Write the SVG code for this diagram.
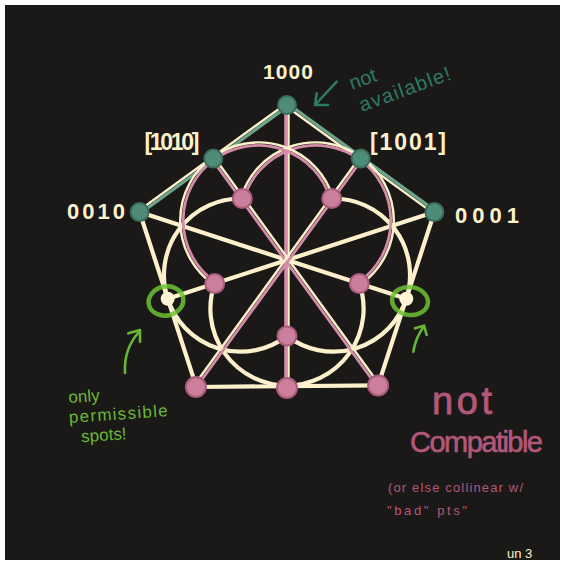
<svg xmlns="http://www.w3.org/2000/svg" width="565" height="565" viewBox="0 0 565 565">
<style>
.cr{fill:none;stroke:#fdf1cc;stroke-width:4.2;stroke-linecap:round}
.crt{fill:none;stroke:#fdf1cc;stroke-width:2.4;stroke-linecap:round}
.pk{fill:none;stroke:#d48ba7;stroke-width:2.8;stroke-linecap:round}
.gr{fill:none;stroke:#6da58b;stroke-width:3.2;stroke-linecap:round}
.gn{fill:#4f8c78;stroke:#3a6c5c;stroke-width:2}
.pn{fill:#cc7f9d;stroke:#a85c7a;stroke-width:2}
.cn{fill:#fff4d4}
.ring{fill:none;stroke:#6cc232;stroke-opacity:0.85;stroke-width:4.5}
.lbl{font-family:"Liberation Sans",Arial,sans-serif;fill:#fdf1cc;font-weight:bold}
.gt{font-family:"Liberation Sans",Arial,sans-serif;fill:#68b734}
.tt{font-family:"Liberation Sans",Arial,sans-serif;fill:#2d7a66}
.mt{font-family:"Liberation Sans",Arial,sans-serif;fill:#b3577b}
.ga{fill:none;stroke:#68b734;stroke-width:2.6;stroke-linecap:round;stroke-linejoin:round}
</style>
<rect x="0" y="0" width="565" height="565" fill="#ffffff"/>
<rect x="5" y="5" width="555" height="555" fill="#1b1917"/>

<g id="connectors">
  <line class="cr" x1="139.6" y1="212.1" x2="195.9" y2="385.4"/>
  <line class="cr" x1="195.9" y1="387" x2="378.1" y2="385.4"/>
  <line class="cr" x1="378.1" y1="385.4" x2="434.4" y2="212.1"/>
  <line class="cr" x1="139.6" y1="212.1" x2="406.3" y2="298.8"/>
  <line class="cr" x1="434.4" y1="212.1" x2="167.7" y2="298.8"/>
  <path class="cr" d="M331.7 198.5 A76.6 76.6 0 1 1 287 336"/>
  <path class="cr" d="M287 336 A76.6 76.6 0 1 1 242.3 198.5"/>
  <path class="cr" d="M359.3 283.5 A76.6 76.6 0 1 1 214.7 283.5"/>
  <line class="crt" x1="287" y1="105" x2="139.6" y2="212.1" transform="translate(-0.9 -1.3)"/>
  <line class="gr" x1="287" y1="105" x2="139.6" y2="212.1" transform="translate(0.9 1.2)"/>
  <line class="crt" x1="287" y1="105" x2="434.4" y2="212.1" transform="translate(-0.9 1.3)"/>
  <line class="gr" x1="287" y1="105" x2="434.4" y2="212.1" transform="translate(0.9 -1.2)"/>
  <line class="crt" x1="287" y1="105" x2="287" y2="385.4" transform="translate(1.5 0)"/>
  <line class="pk" x1="287" y1="105" x2="287" y2="385.4" transform="translate(-1.4 0)"/>
  <line class="crt" x1="213.3" y1="158.6" x2="378.1" y2="385.4" transform="translate(1.2 -0.9)"/>
  <line class="pk" x1="213.3" y1="158.6" x2="378.1" y2="385.4" transform="translate(-1.2 0.9)"/>
  <line class="crt" x1="360.7" y1="158.6" x2="195.9" y2="385.4" transform="translate(-1.2 -0.9)"/>
  <line class="pk" x1="360.7" y1="158.6" x2="195.9" y2="385.4" transform="translate(1.2 0.9)"/>
  <path class="crt" d="M242.3 198.5 A76.6 76.6 0 1 1 359.3 283.5" transform="translate(315.7 220.5) scale(1.02) translate(-315.7 -220.5)"/>
  <path class="pk" d="M242.3 198.5 A76.6 76.6 0 1 1 359.3 283.5" transform="translate(315.7 220.5) scale(0.981) translate(-315.7 -220.5)"/>
  <path class="crt" d="M214.7 283.5 A76.6 76.6 0 1 1 331.7 198.5" transform="translate(258.3 220.5) scale(1.02) translate(-258.3 -220.5)"/>
  <path class="pk" d="M214.7 283.5 A76.6 76.6 0 1 1 331.7 198.5" transform="translate(258.3 220.5) scale(0.981) translate(-258.3 -220.5)"/>
</g>

<g id="node-1000"><circle class="gn" cx="287" cy="105" r="9"/><text class="lbl" x="288" y="79" font-size="21" text-anchor="middle" textLength="50">1000</text></g>
<g id="node-1010"><circle class="gn" cx="213.3" cy="158.6" r="9"/><text class="lbl" x="172" y="150" font-size="23" text-anchor="middle" textLength="55">[1010]</text></g>
<g id="node-1001"><circle class="gn" cx="360.7" cy="158.6" r="9"/><text class="lbl" x="408" y="150" font-size="23" text-anchor="middle" textLength="76">[1001]</text></g>
<g id="node-0010"><circle class="gn" cx="139.6" cy="212.1" r="9"/><text class="lbl" x="96" y="219" font-size="22" text-anchor="middle" textLength="58">0010</text></g>
<g id="node-0001"><circle class="gn" cx="434.4" cy="212.1" r="9"/><text class="lbl" x="487" y="223" font-size="22" text-anchor="middle" textLength="64">0001</text></g>

<g id="node-ll"><circle class="pn" cx="195.9" cy="387" r="10"/></g>
<g id="node-bm"><circle class="pn" cx="287" cy="388" r="10"/></g>
<g id="node-lr"><circle class="pn" cx="378.1" cy="385.4" r="10"/></g>
<g id="node-i1"><circle class="pn" cx="242.3" cy="198.5" r="9.5"/></g>
<g id="node-i2"><circle class="pn" cx="331.7" cy="198.5" r="9.5"/></g>
<g id="node-i3"><circle class="pn" cx="359.3" cy="283.5" r="9.5"/></g>
<g id="node-i4"><circle class="pn" cx="287" cy="336" r="9.5"/></g>
<g id="node-i5"><circle class="pn" cx="214.7" cy="283.5" r="9.5"/></g>

<g id="node-left"><circle class="cn" cx="167.7" cy="298.8" r="7"/><ellipse class="ring" cx="166" cy="301" rx="17.5" ry="14.5" transform="rotate(-12 166 301)"/></g>
<g id="node-right"><circle class="cn" cx="406.3" cy="298.8" r="7"/><ellipse class="ring" cx="410" cy="301" rx="18" ry="14" transform="rotate(8 410 301)"/></g>

<g id="note-available">
  <path d="M336.7 81.7 L315 105 M316.7 93.3 L315 105 L328 105" fill="none" stroke="#2d7a66" stroke-width="2.5" stroke-linecap="round" stroke-linejoin="round"/>
  <text class="tt" x="352" y="90" font-size="20" transform="rotate(-20 352 90)">not</text>
  <text class="tt" x="362" y="112" font-size="20" transform="rotate(-20 362 112)" textLength="96">available!</text>
</g>

<g id="note-permissible">
  <path class="ga" d="M125 373 C124 356 129 343 139 332"/>
  <path class="ga" d="M128.3 333.3 L140 330 L140 341.7"/>
  <path class="ga" d="M413.3 351.7 C415 341 419 333 424 326"/>
  <path class="ga" d="M415 328.3 L424 325.7 L426.7 335"/>
  <g transform="rotate(-4 70 420)">
    <text class="gt" x="70" y="403" font-size="17">only</text>
    <text class="gt" x="69" y="423" font-size="17" textLength="99">permissible</text>
    <text class="gt" x="80" y="443" font-size="17">spots!</text>
  </g>
</g>

<g id="note-compatible">
  <text class="mt" x="432" y="414" font-size="38" textLength="60" stroke="#b3577b" stroke-width="0.8">not</text>
  <text class="mt" x="410" y="452" font-size="29" textLength="133" stroke="#b3577b" stroke-width="0.6">Compatible</text>
  <text class="mt" x="388" y="492" font-size="13" textLength="135">(or else collinear w/</text>
  <text class="mt" x="387" y="515" font-size="13" textLength="80">"bad" pts"</text>
</g>

<text x="507" y="558" font-family="Liberation Sans, Arial, sans-serif" font-size="13" fill="#fdf1cc">un 3</text>
</svg>
